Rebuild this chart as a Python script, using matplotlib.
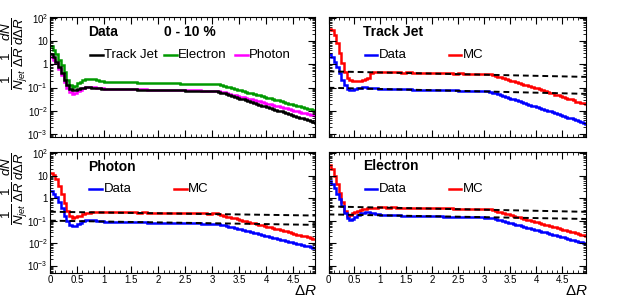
import numpy as np
import matplotlib.pyplot as plt
from matplotlib.ticker import LogLocator, MultipleLocator, FuncFormatter, NullFormatter
from matplotlib.lines import Line2D

plt.rcParams['font.family'] = ['Liberation Sans', 'DejaVu Sans']
plt.rcParams['mathtext.fontset'] = 'custom'
plt.rcParams['mathtext.rm'] = 'Liberation Sans'
plt.rcParams['mathtext.it'] = 'Liberation Sans:italic'
plt.rcParams['mathtext.bf'] = 'Liberation Sans:bold'

# bin edges: 0.05 wide below 1, 0.1 wide on the plateau, 0.05 wide in the tail
edges = np.round(np.r_[np.arange(0, 1.0, 0.05), np.arange(1.0, 3.05, 0.1), np.arange(3.1, 5.01, 0.05)], 3)

# Data, 0-10 %
tj_data = [2.8, 2.0, 1.3, 0.75, 0.42, 0.22, 0.13, 0.088, 0.075, 0.077, 0.085, 0.093, 0.099, 0.102, 0.102, 0.100, 0.097, 0.094, 0.092, 0.090,
           0.088, 0.087, 0.086, 0.085, 0.084, 0.083, 0.082, 0.081, 0.080, 0.079, 0.078, 0.078, 0.077, 0.076, 0.075, 0.074, 0.073, 0.072, 0.072, 0.071, 0.070,
           0.067, 0.060, 0.056, 0.0505, 0.047, 0.043, 0.040, 0.036, 0.033, 0.031,
           0.028, 0.026, 0.024, 0.022, 0.020, 0.0183, 0.0168, 0.0154, 0.0142, 0.0130,
           0.0120, 0.0110, 0.0101, 0.0093, 0.0085, 0.0078, 0.0072, 0.0066, 0.0061, 0.0056,
           0.0051, 0.0047, 0.0043, 0.0040, 0.0037, 0.0034, 0.0031, 0.0028]
ph_data = [2.1, 1.6, 1.1, 0.65, 0.35, 0.17, 0.095, 0.064, 0.055, 0.058, 0.068, 0.082, 0.095, 0.104, 0.109, 0.108, 0.104, 0.099, 0.095, 0.092,
           0.090, 0.089, 0.088, 0.087, 0.086, 0.085, 0.084, 0.083, 0.082, 0.081, 0.080, 0.080, 0.079, 0.078, 0.077, 0.076, 0.076, 0.075, 0.074, 0.074, 0.073,
           0.072, 0.066, 0.0615, 0.0574, 0.0536, 0.050, 0.0467, 0.0436, 0.0407, 0.038,
           0.0354, 0.0331, 0.0309, 0.0288, 0.0269, 0.0251, 0.0234, 0.0218, 0.0204, 0.019,
           0.0177, 0.0166, 0.0155, 0.0144, 0.0135, 0.0126, 0.0117, 0.0109, 0.0102, 0.0095,
           0.0089, 0.0083, 0.0077, 0.0072, 0.0067, 0.0063, 0.0059, 0.0055]
el_data = [6.0, 4.2, 2.8, 1.6, 0.9, 0.45, 0.22, 0.13, 0.11, 0.12, 0.15, 0.18, 0.21, 0.23, 0.24, 0.235, 0.225, 0.21, 0.20, 0.19,
           0.182, 0.178, 0.175, 0.172, 0.169, 0.167, 0.165, 0.163, 0.161, 0.159, 0.157, 0.155, 0.153, 0.151, 0.149, 0.147, 0.145, 0.143, 0.141, 0.139, 0.137,
           0.136, 0.127, 0.118, 0.110, 0.102, 0.095, 0.088, 0.082, 0.076, 0.071,
           0.066, 0.061, 0.057, 0.053, 0.049, 0.046, 0.043, 0.040, 0.037, 0.034,
           0.032, 0.030, 0.028, 0.026, 0.024, 0.022, 0.0205, 0.019, 0.0178, 0.0165,
           0.0154, 0.0143, 0.0133, 0.0124, 0.0115, 0.0107, 0.0100, 0.0093]

# MC
tj_mc = [35, 30, 18, 8, 3.0, 1.1, 0.45, 0.26, 0.22, 0.20, 0.19, 0.19, 0.20, 0.21, 0.23, 0.26, 0.42, 0.47, 0.47, 0.47,
         0.46, 0.46, 0.45, 0.45, 0.44, 0.45, 0.44, 0.43, 0.43, 0.42, 0.43, 0.42, 0.41, 0.41, 0.40, 0.41, 0.40, 0.39, 0.39, 0.39, 0.38,
         0.38, 0.34, 0.32, 0.29, 0.275, 0.25, 0.235, 0.215, 0.20, 0.185,
         0.17, 0.16, 0.145, 0.135, 0.125, 0.118, 0.105, 0.098, 0.092, 0.083,
         0.078, 0.070, 0.066, 0.060, 0.056, 0.050, 0.047, 0.044, 0.039, 0.037,
         0.033, 0.031, 0.029, 0.025, 0.024, 0.022, 0.021, 0.019]
ph_mc = [13, 11, 7, 3.5, 1.5, 0.6, 0.28, 0.16, 0.135, 0.15, 0.17, 0.16, 0.19, 0.21, 0.23, 0.24, 0.245, 0.25, 0.25, 0.25,
         0.25, 0.24, 0.245, 0.24, 0.235, 0.24, 0.23, 0.235, 0.23, 0.225, 0.23, 0.22, 0.225, 0.22, 0.215, 0.22, 0.21, 0.215, 0.21, 0.205, 0.21,
         0.205, 0.18, 0.165, 0.15, 0.145, 0.135, 0.125, 0.118, 0.11, 0.10,
         0.095, 0.088, 0.082, 0.077, 0.071, 0.066, 0.062, 0.058, 0.054, 0.050,
         0.047, 0.044, 0.041, 0.038, 0.035, 0.033, 0.030, 0.028, 0.026, 0.024,
         0.023, 0.021, 0.020, 0.018, 0.017, 0.016, 0.015, 0.014]
el_mc = [30, 20, 10, 4.5, 1.8, 0.7, 0.28, 0.17, 0.18, 0.21, 0.24, 0.27, 0.30, 0.32, 0.34, 0.36, 0.37, 0.38, 0.385, 0.39,
         0.39, 0.385, 0.39, 0.38, 0.375, 0.38, 0.37, 0.37, 0.365, 0.36, 0.36, 0.355, 0.35, 0.35, 0.345, 0.345, 0.34, 0.335, 0.335, 0.33, 0.33,
         0.33, 0.29, 0.27, 0.25, 0.235, 0.215, 0.20, 0.19, 0.175, 0.162,
         0.15, 0.14, 0.13, 0.12, 0.112, 0.104, 0.097, 0.090, 0.083, 0.078,
         0.072, 0.067, 0.062, 0.058, 0.054, 0.050, 0.046, 0.043, 0.040, 0.037,
         0.034, 0.032, 0.030, 0.028, 0.026, 0.024, 0.022, 0.021]

# dashed fits y = A*exp(b*x): (A, b) for MC (upper) and data (lower)
tj_fits = [(0.50, -0.111), (0.098, -0.122)]
ph_fits = [(0.25, -0.079), (0.10, -0.088)]
el_fits = [(0.43, -0.111), (0.19, -0.094)]

ylabel = r'$\mathit{\dfrac{1}{N_{jet}}\,\dfrac{1}{\Delta R}\,\dfrac{dN}{d\Delta R}}$'
dec_labels = {2: '$10^{2}$', 1: '10', 0: '1', -1: '$10^{-1}$', -2: '$10^{-2}$', -3: '$10^{-3}$'}


def fmt_log(v, pos):
    e = int(np.round(np.log10(v)))
    return dec_labels.get(e, '')


def style(ax, ylim, xmax, xlab, ylab):
    ax.set_yscale('log')
    ax.set_xlim(0, xmax)
    ax.set_ylim(*ylim)
    ax.yaxis.set_major_locator(LogLocator(base=10, numticks=12))
    ax.yaxis.set_minor_locator(LogLocator(base=10, subs=np.arange(2, 10), numticks=12))
    ax.yaxis.set_minor_formatter(NullFormatter())
    ax.xaxis.set_major_locator(MultipleLocator(0.5))
    ax.xaxis.set_minor_locator(MultipleLocator(0.1))
    ax.tick_params(which='both', direction='in', top=True, right=True, labelsize=7, pad=1.5)
    ax.tick_params(which='major', length=5)
    ax.tick_params(which='minor', length=2.5)
    if ylab:
        ax.yaxis.set_major_formatter(FuncFormatter(fmt_log))
        ax.text(-0.132, 1.0, ylabel, transform=ax.transAxes, rotation=90,
                ha='center', va='top', fontsize=9.5)
    else:
        ax.yaxis.set_major_formatter(NullFormatter())
    if xlab:
        ax.xaxis.set_major_formatter(FuncFormatter(lambda v, p: '%g' % v))
        ax.text(1.005, -0.095, r'$\Delta R$', transform=ax.transAxes, ha='right', va='top', fontsize=11)
    else:
        ax.xaxis.set_major_formatter(NullFormatter())


def leg_item(ax, x, y, color, label):
    ax.add_line(Line2D([x, x + 0.048], [y, y], color=color, lw=1.8, transform=ax.transAxes))
    ax.text(x + 0.054, y, label, transform=ax.transAxes, ha='left', va='center', fontsize=9.5)


def fits(ax, pars, xmax):
    xx = np.linspace(0, xmax, 50)
    for A, b in pars:
        ax.plot(xx, A * np.exp(b * xx), color='black', ls=(0, (3, 2)), lw=1.4, zorder=5)


fig = plt.figure(figsize=(6.3, 3.01), dpi=100)
ax1 = fig.add_axes([50 / 630, 1 - 137 / 301, 265 / 630, 120 / 301])
ax2 = fig.add_axes([328.5 / 630, 1 - 137 / 301, 257.5 / 630, 120 / 301])
ax3 = fig.add_axes([50 / 630, 1 - 272.7 / 301, 265 / 630, 120.7 / 301])
ax4 = fig.add_axes([328.5 / 630, 1 - 272.7 / 301, 257.5 / 630, 120.7 / 301])

lw = 1.8
# Data comparison
ax1.stairs(el_data, edges, baseline=None, color='#009900', lw=lw)
ax1.stairs(ph_data, edges, baseline=None, color='#ff00ff', lw=lw)
ax1.stairs(tj_data, edges, baseline=None, color='black', lw=lw)
ax1.text(0.143, 0.875, 'Data', transform=ax1.transAxes, fontsize=10, fontweight='bold', va='center')
ax1.text(0.43, 0.875, '0 - 10 %', transform=ax1.transAxes, fontsize=10, fontweight='bold', va='center')
leg_item(ax1, 0.151, 0.683, 'black', 'Track Jet')
leg_item(ax1, 0.43, 0.683, '#009900', 'Electron')
leg_item(ax1, 0.698, 0.683, '#ff00ff', 'Photon')

# Data vs MC panels
panels = [(ax2, tj_data, tj_mc, tj_fits, 'Track Jet'),
          (ax3, ph_data, ph_mc, ph_fits, 'Photon'),
          (ax4, el_data, el_mc, el_fits, 'Electron')]
for ax, d, m, f, name in panels:
    xmax = 4.9 if ax is ax3 else 4.96
    ax.stairs(m, edges, baseline=None, color='#ff0000', lw=lw)
    ax.stairs(d, edges, baseline=None, color='#0000ff', lw=lw)
    fits(ax, f, xmax)
    x0 = 0.143 if ax is ax3 else 0.134
    y0 = 0.876 if ax is not ax4 else 0.884
    ax.text(x0, y0, name, transform=ax.transAxes, fontsize=10, fontweight='bold', va='center')
    yl = 0.683 if ax is ax2 else 0.695
    leg_item(ax, x0 + 0.006, yl, '#0000ff', 'Data')
    leg_item(ax, 0.468, yl, '#ff0000', 'MC')

style(ax1, (7.4e-4, 1.1e2), 4.9, False, True)
style(ax2, (7.4e-4, 1.1e2), 4.96, False, False)
style(ax3, (4.8e-4, 1.15e2), 4.9, True, True)
style(ax4, (4.8e-4, 1.15e2), 4.96, True, False)

fig.savefig('out.png', dpi=100)
